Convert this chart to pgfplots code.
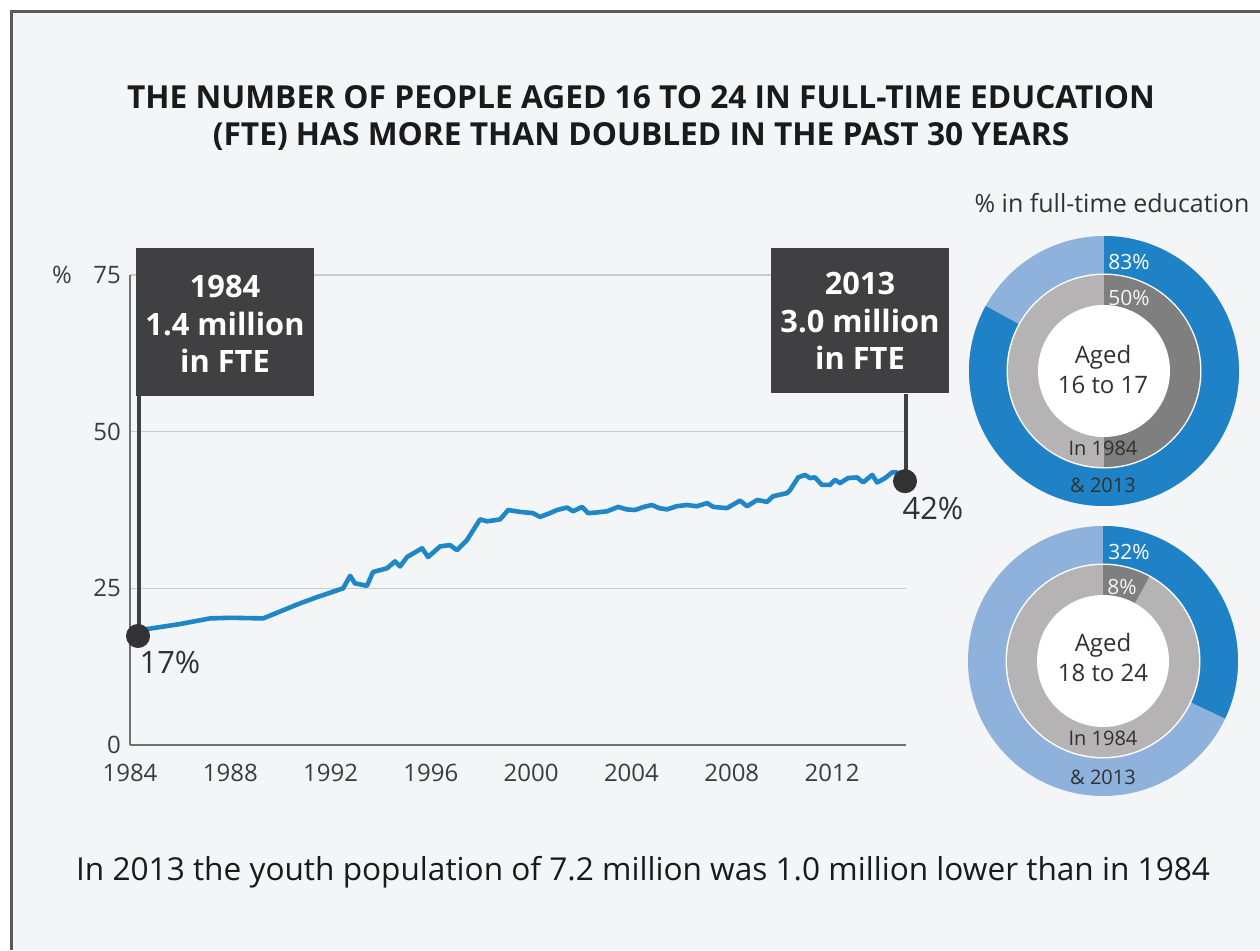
\documentclass[border=0pt]{standalone}
\usepackage{pgfplots}
\pgfplotsset{compat=1.18}
\usepackage{fontspec}
\setmainfont{Open Sans}
\definecolor{bg}{HTML}{F4F5F7}
\definecolor{framec}{HTML}{5A5A5A}
\definecolor{lineblue}{HTML}{1F87C8}
\definecolor{darkblue}{HTML}{1F82C6}
\definecolor{lightblue}{HTML}{8FB2DD}
\definecolor{dgray}{HTML}{7F7F7F}
\definecolor{lgray}{HTML}{B5B3B3}
\definecolor{boxgray}{HTML}{404042}
\definecolor{dotgray}{HTML}{333335}
\definecolor{gridgray}{HTML}{CACACA}
\definecolor{axisgray}{HTML}{707070}
\definecolor{txt}{HTML}{1A1A1A}
\newcommand{\donut}[4]{%
  \fill[lightblue] (#1,#2) circle (135);
  \fill[darkblue] (#1,#2) -- ++(90:135) arc[start angle=90, end angle={90-3.6*#3}, radius=135] -- cycle;
  \fill[white!85!bg] (#1,#2) circle (97.5);
  \fill[lgray] (#1,#2) circle (96);
  \fill[dgray] (#1,#2) -- ++(90:96) arc[start angle=90, end angle={90-3.6*#4}, radius=96] -- cycle;
  \fill[white] (#1,#2) circle (66);
}
\begin{document}
\begin{tikzpicture}[x=0.5pt,y=0.5pt]
\fill[white] (0,0) rectangle (1260,950);
\fill[bg] (11,0) rectangle (1260,938);
\draw[framec, line width=1.5pt] (11,0) -- (11,938) -- (1260,938);

\node[font=\bfseries\fontsize{15.85}{18.5}\selectfont, align=center, text=txt] at (641,831.5)
  {THE NUMBER OF PEOPLE AGED 16 TO 24 IN FULL-TIME EDUCATION\\(FTE) HAS MORE THAN DOUBLED IN THE PAST 30 YEARS};

\begin{axis}[at={(65pt,102.5pt)}, anchor=south west, scale only axis,
  width=388pt, height=235pt,
  xmin=1984, xmax=2014.95, ymin=0, ymax=75,
  axis x line*=bottom, axis y line*=left,
  axis line style={axisgray, line width=1pt},
  xtick={1984,1988,1992,1996,2000,2004,2008,2012},
  ytick={0,25,50,75},
  major tick length=0pt,
  ymajorgrids, grid style={gridgray, line width=0.6pt},
  /pgf/number format/assume math mode=true,
  /pgf/number format/1000 sep={},
  tick label style={font=\fontsize{12}{14}\selectfont, text=txt!85},
  yticklabel style={xshift=-1pt},
  xticklabel style={yshift=-6pt},
  clip=false]
\addplot[lineblue, line width=2.3pt, line join=round] coordinates {
(1984.32,17.4) (1984.68,18.5) (1985.99,19.3) (1987.19,20.2) (1987.99,20.3) (1989.31,20.2)
(1990.78,22.6) (1991.46,23.6) (1992.50,25.0) (1992.78,27.0) (1992.97,25.8) (1993.45,25.4)
(1993.69,27.6) (1994.25,28.2) (1994.57,29.3) (1994.77,28.5) (1995.05,30.0) (1995.65,31.4)
(1995.89,30.0) (1996.37,31.7) (1996.76,31.9) (1997.04,31.1) (1997.44,32.7) (1997.96,36.0)
(1998.24,35.7) (1998.76,36.0) (1999.08,37.5) (1999.56,37.2) (2000.07,37.0) (2000.35,36.4)
(2000.75,37.0) (2001.03,37.5) (2001.43,37.9) (2001.67,37.3) (2002.03,38.0) (2002.27,37.0)
(2002.60,37.1) (2003.03,37.3) (2003.47,38.0) (2003.80,37.6) (2004.14,37.5) (2004.50,38.0)
(2004.82,38.3) (2005.10,37.8) (2005.42,37.6) (2005.80,38.1) (2006.22,38.3) (2006.60,38.1)
(2007.02,38.6) (2007.26,38.0) (2007.81,37.8) (2008.33,39.0) (2008.61,38.1) (2009.01,39.1)
(2009.41,38.8) (2009.65,39.7) (2010.21,40.2) (2010.33,40.7) (2010.65,42.7) (2010.92,43.1)
(2011.12,42.6) (2011.32,42.7) (2011.60,41.5) (2011.92,41.5) (2012.12,42.3) (2012.32,41.8)
(2012.64,42.6) (2013.00,42.7) (2013.24,41.9) (2013.60,43.1) (2013.80,41.9) (2014.12,42.6)
(2014.40,43.5) (2014.59,43.5) (2014.91,42.1)
};
\draw[boxgray, line width=2pt] (axis cs:1984.36,17.4) -- (axis cs:1984.36,56);
\draw[boxgray, line width=2pt] (axis cs:2014.95,42.1) -- (axis cs:2014.95,56);
\addplot[only marks, mark=*, mark size=5.8pt, dotgray] coordinates {(1984.32,17.4) (2014.91,42.1)};
\end{axis}

\node[font=\fontsize{12}{14}\selectfont, text=txt!85] at (62,675) {\%};

% callout boxes
\fill[boxgray] (136,702) rectangle (314,554);
\node[font=\bfseries\fontsize{15.4}{18.75}\selectfont, align=center, text=white] at (225,626)
  {1984\\1.4 million\\in FTE};
\fill[boxgray] (771,702) rectangle (949,557);
\node[font=\bfseries\fontsize{15.4}{18.75}\selectfont, align=center, text=white] at (860,629)
  {2013\\3.0 million\\in FTE};

\node[font=\fontsize{15.4}{18}\selectfont, text=txt!90] at (170,288) {17\%};
\node[font=\fontsize{15.4}{18}\selectfont, text=txt!90] at (933,442) {42\%};

% donuts
\node[font=\fontsize{12.5}{14}\selectfont, text=txt!90] at (1112,747) {\% in full-time education};
\donut{1104}{579}{83}{50}
\node[font=\fontsize{10.5}{12}\selectfont, text=white] at (1129,688) {83\%};
\node[font=\fontsize{10.5}{12}\selectfont, text=white!85!lgray] at (1129,652) {50\%};
\node[font=\fontsize{12}{15}\selectfont, align=center, text=txt!90] at (1103,580) {Aged\\16 to 17};
\node[font=\fontsize{10}{12}\selectfont, text=txt!90] at (1103,502) {In 1984};
\node[font=\fontsize{10}{12}\selectfont, text=txt!90] at (1103,465) {\& 2013};

\donut{1103}{289}{32}{8}
\node[font=\fontsize{10.5}{12}\selectfont, text=white] at (1129,398) {32\%};
\node[font=\fontsize{10.5}{12}\selectfont, text=white!85!lgray] at (1122,363) {8\%};
\node[font=\fontsize{12}{15}\selectfont, align=center, text=txt!90] at (1103,293) {Aged\\18 to 24};
\node[font=\fontsize{10}{12}\selectfont, text=txt!90] at (1103,212) {In 1984};
\node[font=\fontsize{10}{12}\selectfont, text=txt!90] at (1103,173) {\& 2013};

\node[font=\fontsize{15.8}{18}\selectfont, text=txt] at (643,78)
  {In 2013 the youth population of 7.2 million was 1.0 million lower than in 1984};

\pgfresetboundingbox
\useasboundingbox (0,0) rectangle (1260,950);
\end{tikzpicture}
\end{document}
